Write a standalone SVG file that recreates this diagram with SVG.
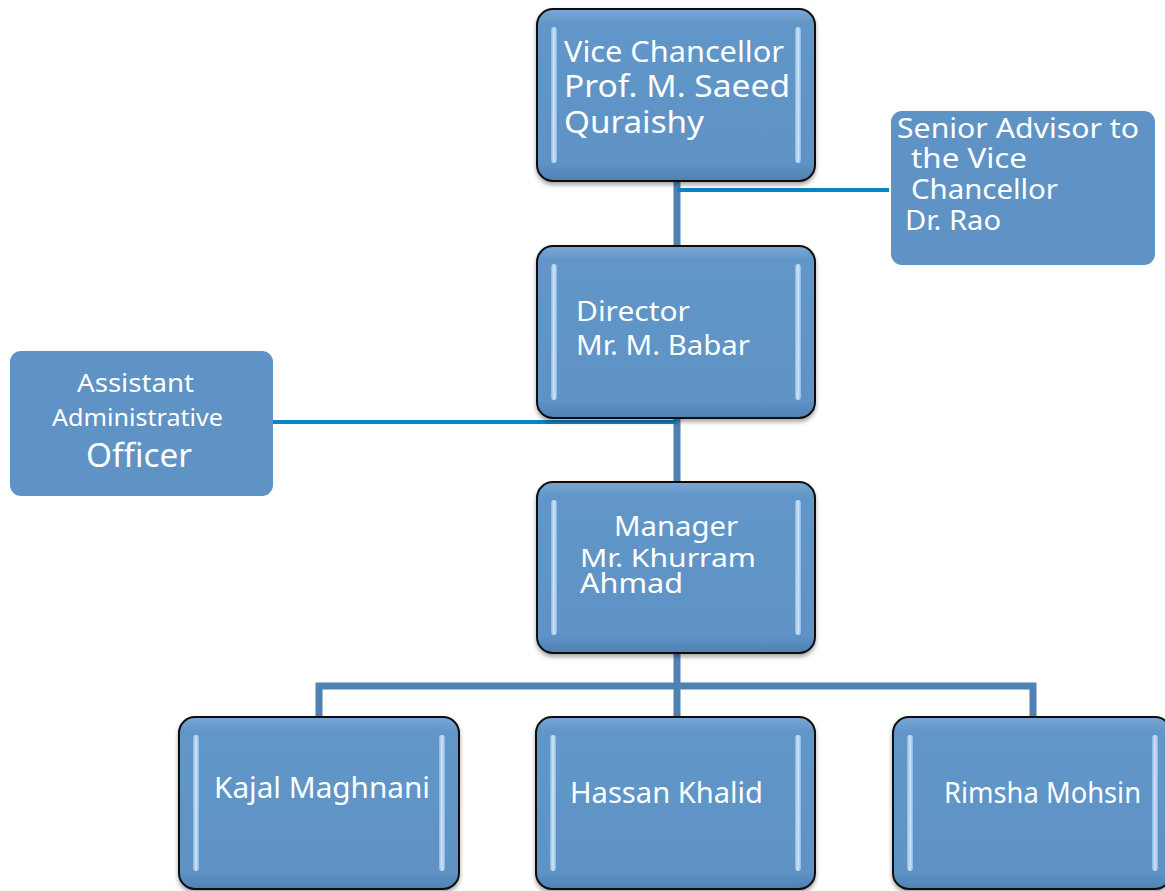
<svg xmlns="http://www.w3.org/2000/svg" width="1165" height="891" viewBox="0 0 1165 891">
<defs>
<linearGradient id="gloss" x1="0" y1="0" x2="0" y2="1">
<stop offset="0" stop-color="#7aa8d6"/>
<stop offset="0.08" stop-color="#6296c8"/>
<stop offset="0.9" stop-color="#5f93c6"/>
<stop offset="1" stop-color="#4f81b3"/>
</linearGradient>
<linearGradient id="hl" x1="0" y1="0" x2="1" y2="0">
<stop offset="0" stop-color="#8fbde8"/>
<stop offset="0.5" stop-color="#e6f4ff"/>
<stop offset="1" stop-color="#8fbde8"/>
</linearGradient>
<filter id="sh" x="-10%" y="-10%" width="120%" height="125%">
<feDropShadow dx="0" dy="3" stdDeviation="2" flood-color="#000" flood-opacity="0.35"/>
</filter>
</defs>
<style>
.box{fill:url(#gloss);stroke:#111;stroke-width:2;filter:url(#sh)}
.flat{fill:#5f93c6}
.hl{fill:url(#hl);opacity:0.85}
.t{fill:#fff;font-family:"Noto Sans","Open Sans",sans-serif;font-size:28px}
.c{fill:none;stroke:#4f81b3;stroke-width:7}
.b{fill:none;stroke:#0a83c6;stroke-width:4}
</style>
<rect width="1165" height="891" fill="#fff"/>
<g id="connectors">
<line class="c" x1="677" y1="181" x2="677" y2="246"/>
<line class="b" x1="677" y1="190" x2="889" y2="190"/>
<line class="c" x1="677" y1="418" x2="677" y2="482"/>
<line class="b" x1="273" y1="422" x2="677" y2="422"/>
<line class="c" x1="677" y1="653" x2="677" y2="717"/>
<polyline class="c" points="319,717 319,686 1033,686 1033,717"/>
</g>
<g id="vc">
<rect class="box" x="537" y="9" width="278" height="172" rx="16"/>
<rect class="hl" x="551" y="27" width="6" height="136" rx="3"/>
<rect class="hl" x="795" y="27" width="6" height="136" rx="3"/>
<text class="t" x="564" y="62" textLength="220" lengthAdjust="spacingAndGlyphs" style="font-size:29px">Vice Chancellor</text>
<text class="t" x="564" y="97" textLength="226" lengthAdjust="spacingAndGlyphs" style="font-size:30px">Prof. M. Saeed</text>
<text class="t" x="564" y="133" textLength="140" lengthAdjust="spacingAndGlyphs" style="font-size:30px">Quraishy</text>
</g>
<g id="advisor">
<rect class="flat" x="891" y="111" width="264" height="154" rx="11"/>
<text class="t" x="897" y="138" textLength="242" lengthAdjust="spacingAndGlyphs">Senior Advisor to</text>
<text class="t" x="911" y="168" textLength="116" lengthAdjust="spacingAndGlyphs">the Vice</text>
<text class="t" x="911" y="199" textLength="147" lengthAdjust="spacingAndGlyphs">Chancellor</text>
<text class="t" x="905" y="230" textLength="96" lengthAdjust="spacingAndGlyphs" style="font-size:27px">Dr. Rao</text>
</g>
<g id="director">
<rect class="box" x="537" y="246" width="278" height="172" rx="16"/>
<rect class="hl" x="551" y="264" width="6" height="136" rx="3"/>
<rect class="hl" x="795" y="264" width="6" height="136" rx="3"/>
<text class="t" x="576" y="321" textLength="114" lengthAdjust="spacingAndGlyphs">Director</text>
<text class="t" x="576" y="355" textLength="174" lengthAdjust="spacingAndGlyphs">Mr. M. Babar</text>
</g>
<g id="assistant">
<rect class="flat" x="10" y="351" width="263" height="145" rx="11"/>
<text class="t" x="77" y="392" textLength="117" lengthAdjust="spacingAndGlyphs" style="font-size:26px">Assistant</text>
<text class="t" x="52" y="426" textLength="171" lengthAdjust="spacingAndGlyphs" style="font-size:23px">Administrative</text>
<text class="t" x="86" y="467" textLength="106" lengthAdjust="spacingAndGlyphs" style="font-size:33px">Officer</text>
</g>
<g id="manager">
<rect class="box" x="537" y="482" width="278" height="171" rx="16"/>
<rect class="hl" x="551" y="500" width="6" height="135" rx="3"/>
<rect class="hl" x="795" y="500" width="6" height="135" rx="3"/>
<text class="t" x="614" y="536" textLength="124" lengthAdjust="spacingAndGlyphs" style="font-size:27px">Manager</text>
<text class="t" x="580" y="567" textLength="176" lengthAdjust="spacingAndGlyphs" style="font-size:26px">Mr. Khurram</text>
<text class="t" x="580" y="593" textLength="103" lengthAdjust="spacingAndGlyphs" style="font-size:27px">Ahmad</text>
</g>
<g id="kajal">
<rect class="box" x="179" y="717" width="280" height="172" rx="16"/>
<rect class="hl" x="193" y="735" width="6" height="136" rx="3"/>
<rect class="hl" x="439" y="735" width="6" height="136" rx="3"/>
<text class="t" x="214" y="798" textLength="216" lengthAdjust="spacingAndGlyphs" style="font-size:29px">Kajal Maghnani</text>
</g>
<g id="hassan">
<rect class="box" x="536" y="717" width="279" height="172" rx="16"/>
<rect class="hl" x="550" y="735" width="6" height="136" rx="3"/>
<rect class="hl" x="795" y="735" width="6" height="136" rx="3"/>
<text class="t" x="570" y="803" textLength="193" lengthAdjust="spacingAndGlyphs" style="font-size:29px">Hassan Khalid</text>
</g>
<g id="rimsha">
<rect class="box" x="893" y="717" width="278" height="172" rx="16"/>
<rect class="hl" x="907" y="735" width="6" height="136" rx="3"/>
<rect class="hl" x="1152" y="735" width="6" height="136" rx="3"/>
<text class="t" x="944" y="803" textLength="197" lengthAdjust="spacingAndGlyphs" style="font-size:29px">Rimsha Mohsin</text>
</g>
</svg>
